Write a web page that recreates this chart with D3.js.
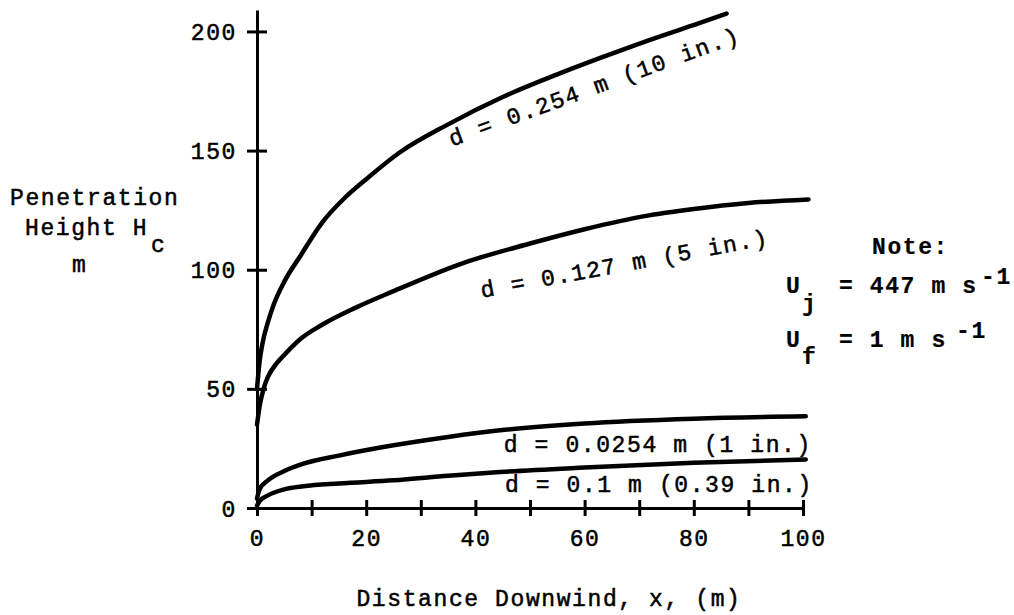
<!DOCTYPE html>
<html>
<head>
<meta charset="utf-8">
<script src="https://cdn.jsdelivr.net/npm/d3@7"></script>
<style>
body{margin:0;background:#fff;}
text{font-family:"Liberation Mono","Courier New",monospace;font-size:23px;letter-spacing:1.6px;fill:#000;stroke:#000;stroke-width:0.5px;}
.note text{font-weight:bold;stroke-width:0.2px;}
</style>
</head>
<body>
<svg id="chart" width="1014" height="615"></svg>
<script>
// axis ticks
var xTicks = [0,10,20,30,40,50,60,70,80,90,100];
var yTicks = [0,50,100,150,200];

// curves (x in m, H in m)
var x254 = [0,0.5,1,2,3,5,8,12,16,20,26,35,45,55,63,72,81,86];
var h254 = [50,62,69,78,85,95,106,120,130,138,149,161,172.5,182,189,196.5,203.5,207.5];
var x127 = [0,0.5,1.2,2,3.7,5.3,8,12,18,25,38,50,60,71,80,90,101];
var h127 = [35,43,50,55,61,65,71,77,84,91,103,111,117,122.5,125.5,128,129.5];
var x0254 = [0,0.5,2,5,8.5,15,25,35,44.5,60,80,100.5];
var h0254 = [4,8,11.6,15.5,18.6,22,26.3,29.8,32.6,35.5,37.5,38.5];
var x01 = [0,0.5,2,5,8.5,15,25,35,44.5,60,80,100.5];
var h01 = [1,3,5.3,7.8,9.1,10.3,11.6,13.5,15.1,17,19,20.4];

var curveNames = ["d = 0.254 m (10 in.)","d = 0.127 m (5 in.)","d = 0.0254 m (1 in.)","d = 0.1 m (0.39 in.)"];

var svg = d3.select('#chart');
var x = d3.scaleLinear().domain([0,100]).range([257,803]);
var y = d3.scaleLinear().domain([0,209]).range([508,10]);

var toPts = function(xs,hs){
	return xs.map(function(v,i){ return [v,hs[i]]; });
};
var line = d3.line()
	.x(function(d){return x(d[0]);})
	.y(function(d){return y(d[1]);})
	.curve(d3.curveMonotoneX);

var series = [toPts(x254,h254),toPts(x127,h127),toPts(x0254,h0254),toPts(x01,h01)];
svg.selectAll('path.curve').data(series).enter()
	.append('path')
	.attr('class','curve')
	.attr('d',line)
	.attr('fill','none')
	.attr('stroke','#000')
	.attr('stroke-width',4.5)
	.attr('stroke-linecap','round');

// axes
var xAxis = svg.append('g')
	.attr('transform','translate(0,'+y(0)+')')
	.call(d3.axisBottom(x).tickValues(xTicks).tickSizeOuter(0)
		.tickFormat(function(d){ return d%20==0 ? d : ''; }));
var yAxis = svg.append('g')
	.attr('transform','translate('+x(0)+',0)')
	.call(d3.axisLeft(y).tickValues(yTicks).tickSizeOuter(0));

[xAxis,yAxis].forEach(function(g){
	g.attr('font-family',null).attr('font-size',null);
	g.select('.domain').attr('stroke','#000').attr('stroke-width',3);
	g.selectAll('.tick line').attr('stroke','#000').attr('stroke-width',3);
});
xAxis.selectAll('.tick line').attr('y1',-8).attr('y2',8);
xAxis.selectAll('.tick text').attr('y',38).attr('dy',null).attr('fill','#000');
yAxis.selectAll('.tick line').attr('x1',-10).attr('x2',10);
yAxis.selectAll('.tick text').attr('x',-20).attr('dy','0.35em').attr('fill','#000');

// curve labels
var labelPos = [[35.7,151.7,-20],[41.2,88.2,-10.5],[45.2,23.7,0],[45.4,6.8,0]];
svg.selectAll('text.lbl').data(curveNames).enter()
	.append('text')
	.attr('class','lbl')
	.attr('transform',function(d,i){
		var p = labelPos[i];
		return 'translate('+x(p[0])+','+y(p[1])+') rotate('+p[2]+')';
	})
	.text(function(d){return d;});

// axis titles
svg.append('text').attr('x',549).attr('y',606).attr('text-anchor','middle')
	.text('Distance Downwind, x, (m)');
svg.append('text').attr('x',10).attr('y',205).text('Penetration');
svg.append('text').attr('x',25).attr('y',235).text('Height H');
svg.append('text').attr('x',151).attr('y',252).text('c');
svg.append('text').attr('x',72).attr('y',272).text('m');

// note
var note = svg.append('g').attr('class','note');
note.append('text').attr('x',872).attr('y',254).text('Note:');
note.append('text').attr('x',786).attr('y',293).text('U');
note.append('text').attr('x',802).attr('y',311).text('j');
note.append('text').attr('x',839).attr('y',293).text('= 447 m s');
note.append('text').attr('x',981).attr('y',284).text('-1');
note.append('text').attr('x',786).attr('y',347).text('U');
note.append('text').attr('x',802).attr('y',364).text('f');
note.append('text').attr('x',839).attr('y',347).text('= 1 m s');
note.append('text').attr('x',956).attr('y',338).text('-1');
</script>
</body>
</html>
